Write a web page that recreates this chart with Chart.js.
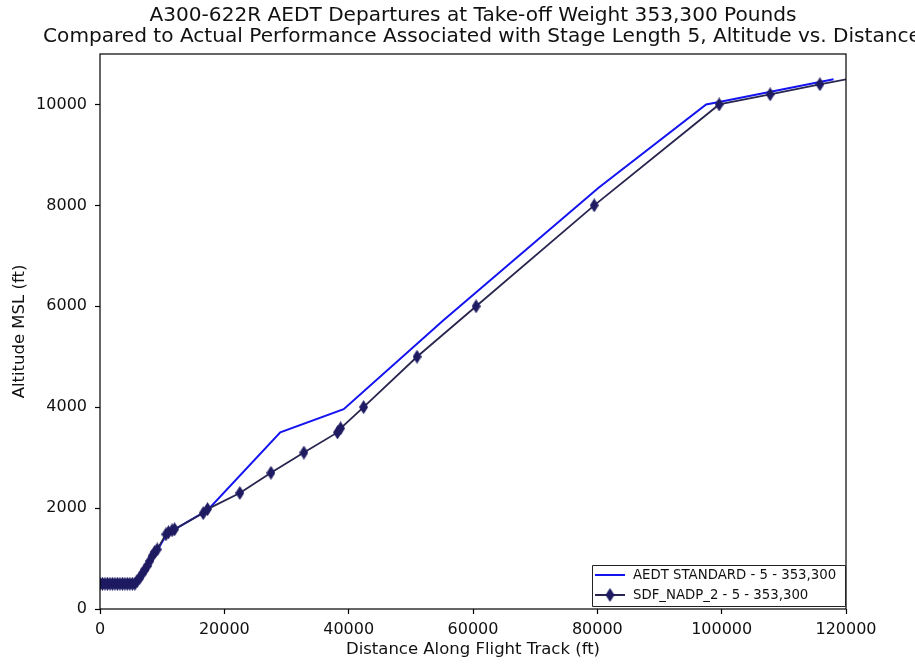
<!DOCTYPE html>
<html>
<head>
<meta charset="utf-8">
<script src="https://cdn.jsdelivr.net/npm/chart.js@4/dist/chart.umd.min.js"></script>
<style>
  html, body { margin: 0; padding: 0; background: #fff; }
  #wrap { width: 915px; height: 667px; position: relative; }
</style>
</head>
<body>
<div id="wrap"><canvas id="c" width="915" height="667"></canvas></div>
<script>
// ---- Data ----
const titleLines = [
  "A300-622R AEDT Departures at Take-off Weight 353,300 Pounds",
  "Compared to Actual Performance Associated with Stage Length 5, Altitude vs. Distance"
];
const xAxisLabel = "Distance Along Flight Track (ft)";
const yAxisLabel = "Altitude MSL (ft)";
const xTicks = [0, 20000, 40000, 60000, 80000, 100000, 120000];
const yTicks = [0, 2000, 4000, 6000, 8000, 10000];

const aedtLabel = "AEDT STANDARD - 5 - 353,300";
const aedtDist = [0, 5600, 8000, 10800, 12000, 17300, 29000, 39200, 55200, 80200, 97500, 100000, 118000];
const aedtAlt  = [480, 480, 900, 1500, 1580, 1960, 3500, 3960, 5720, 8350, 10000, 10060, 10500];

const sdfLabel = "SDF_NADP_2 - 5 - 353,300";
const sdfDist = [0, 400, 800, 1200, 1600, 2000, 2400, 2800, 3200, 3600, 4000, 4400, 4800, 5200, 5600,
                 6000, 6400, 6800, 7200, 7600, 8000, 8400, 8800, 9200, 10600, 11000, 11600, 12000,
                 16600, 17300, 22500, 27500, 32800, 38200, 38700, 42400, 51000, 60500, 79500,
                 99600, 107800, 115800, 125000];
const sdfAlt  = [500, 500, 500, 500, 500, 500, 500, 500, 500, 500, 500, 500, 500, 500, 500,
                 560, 620, 700, 780, 850, 950, 1050, 1130, 1180, 1480, 1520, 1560, 1580,
                 1900, 1980, 2300, 2700, 3100, 3500, 3580, 4000, 5000, 6000, 8000,
                 10000, 10200, 10400, 10610];

const X_MIN = 0, X_MAX = 120000, Y_MIN = 0, Y_MAX = 11000;

// ---- Styles ----
const FONT = "'DejaVu Sans', sans-serif";
const BLUE = '#1414f0';
const DARK_LINE = '#28264f';
const DARK_MARK = '#1e1b62';

function thinDiamond(w, h, color) {
  const cv = document.createElement('canvas');
  cv.width = w; cv.height = h;
  const g = cv.getContext('2d');
  g.fillStyle = color;
  g.beginPath();
  g.moveTo(w / 2, 0);
  g.lineTo(w, h / 2);
  g.lineTo(w / 2, h);
  g.lineTo(0, h / 2);
  g.closePath();
  g.fill();
  return cv;
}
const diamond = thinDiamond(9, 14, DARK_MARK);

const toXY = (xs, ys) => xs.map((x, i) => ({ x: x, y: ys[i] }));

const framePlugin = {
  id: 'frame',
  afterDatasetsDraw(chart) {
    const { ctx, chartArea: a } = chart;
    ctx.save();
    ctx.strokeStyle = '#000';
    ctx.lineWidth = 1.2;
    ctx.strokeRect(a.left, a.top, a.right - a.left, a.bottom - a.top);
    ctx.restore();
  }
};

const titlePlugin = {
  id: 'axesTitle',
  afterDraw(chart) {
    const { ctx, chartArea: a } = chart;
    const cx = (a.left + a.right) / 2;
    ctx.save();
    ctx.font = '20.1px ' + FONT;
    ctx.fillStyle = '#111';
    ctx.textAlign = 'center';
    ctx.textBaseline = 'middle';
    ctx.fillText(titleLines[0], cx, 16);
    ctx.fillText(titleLines[1], cx + 9, 37);
    ctx.restore();
  }
};

const legendPlugin = {
  id: 'cornerLegend',
  afterDraw(chart) {
    const { ctx, chartArea: a } = chart;
    const ds = chart.data.datasets;
    const boxW = 253, boxH = 41;
    const x0 = a.right - 1 - boxW, y0 = a.bottom - 3 - boxH;
    ctx.save();
    ctx.fillStyle = '#fff';
    ctx.strokeStyle = '#222';
    ctx.lineWidth = 1;
    ctx.beginPath();
    ctx.rect(x0 + 0.5, y0 + 0.5, boxW, boxH);
    ctx.fill();
    ctx.stroke();
    ctx.font = '13.3px ' + FONT;
    ctx.textBaseline = 'middle';
    const rows = [ds[0], ds[1]];
    rows.forEach((d, i) => {
      const cy = y0 + 10 + i * 20;
      ctx.strokeStyle = d.borderColor;
      ctx.lineWidth = 2;
      ctx.beginPath();
      ctx.moveTo(x0 + 3, cy);
      ctx.lineTo(x0 + 33, cy);
      ctx.stroke();
      if (d.showMarker) {
        ctx.drawImage(diamond, x0 + 18 - diamond.width / 2, cy - diamond.height / 2);
      }
      ctx.fillStyle = '#111';
      ctx.fillText(d.label, x0 + 41, cy + 1);
    });
    ctx.restore();
  }
};

new Chart(document.getElementById('c'), {
  type: 'scatter',
  data: {
    datasets: [
      {
        label: aedtLabel,
        data: toXY(aedtDist, aedtAlt),
        showLine: true,
        borderColor: BLUE,
        backgroundColor: BLUE,
        borderWidth: 2,
        pointRadius: 0,
        pointHoverRadius: 0,
        tension: 0,
        clip: 0,
        order: 1,
        showMarker: false
      },
      {
        label: sdfLabel,
        data: toXY(sdfDist, sdfAlt),
        showLine: true,
        borderColor: DARK_LINE,
        backgroundColor: DARK_MARK,
        borderWidth: 1.8,
        pointStyle: diamond,
        pointRadius: 5,
        pointHoverRadius: 5,
        tension: 0,
        clip: 0,
        order: 0,
        showMarker: true
      }
    ]
  },
  options: {
    responsive: false,
    animation: false,
    events: [],
    layout: { padding: { top: 54, left: 0, right: 69, bottom: 0 } },
    plugins: {
      legend: { display: false },
      tooltip: { enabled: false },
      title: { display: false }
    },
    scales: {
      x: {
        type: 'linear',
        min: X_MIN, max: X_MAX,
        afterBuildTicks(s) { s.ticks = xTicks.map(v => ({ value: v })); },
        afterFit(s) { s.height = 58; },
        grid: { display: true, drawOnChartArea: false, drawTicks: true, tickLength: 5, color: '#000', tickWidth: 1.2 },
        border: { display: false },
        ticks: {
          color: '#111', padding: 6, maxRotation: 0,
          font: { family: FONT, size: 16 },
          callback: v => String(v)
        },
        title: {
          display: true, text: xAxisLabel, color: '#111',
          font: { family: FONT, size: 16.5 },
          padding: { top: 0, bottom: 7 }
        }
      },
      y: {
        type: 'linear',
        min: Y_MIN, max: Y_MAX,
        afterBuildTicks(s) { s.ticks = yTicks.map(v => ({ value: v })); },
        afterFit(s) { s.width = 100; },
        grid: { display: true, drawOnChartArea: false, drawTicks: true, tickLength: 5, color: '#000', tickWidth: 1.2 },
        border: { display: false },
        ticks: {
          color: '#111', padding: 8,
          font: { family: FONT, size: 16 },
          callback: v => String(v)
        },
        title: {
          display: true, text: yAxisLabel, color: '#111',
          font: { family: FONT, size: 16.5 },
          padding: { top: 10, bottom: 0 }
        }
      }
    }
  },
  plugins: [framePlugin, titlePlugin, legendPlugin]
});
</script>
</body>
</html>
